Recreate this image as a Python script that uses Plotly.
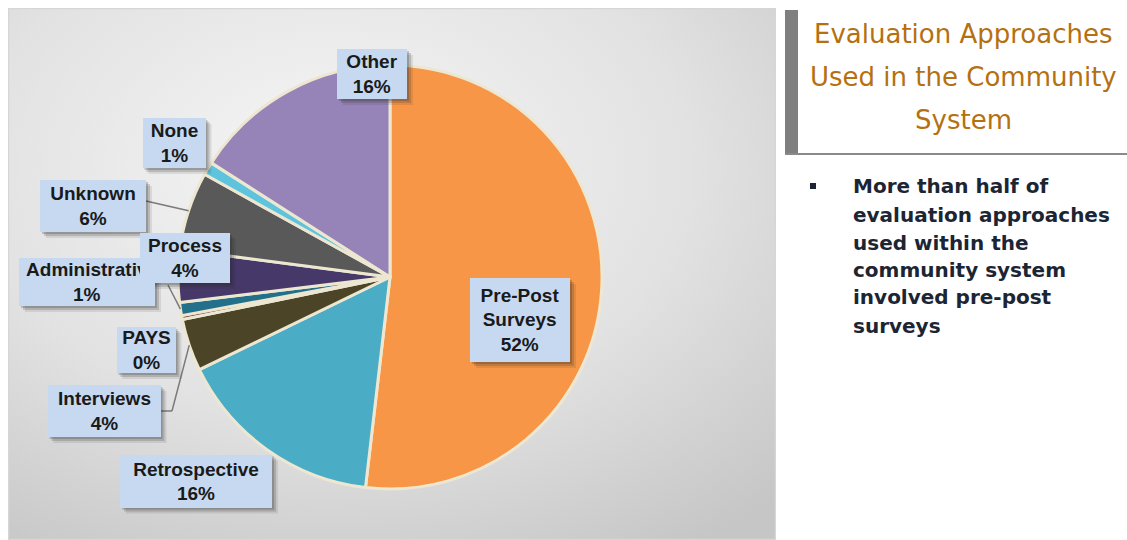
import math
import base64
import plotly.graph_objects as go

# ---------------- data ----------------
categories = ["Pre-Post Surveys", "Retrospective", "Interviews", "PAYS",
              "Administrativ", "Process", "Unknown", "None", "Other"]
values = [52, 16, 4, 0.3, 1, 4, 6, 1, 16]
colors = ["#F79646", "#4BACC6", "#4B4427", "#7F3F3D",
          "#23708A", "#47386A", "#595959", "#5EC4DE", "#9683B7"]

title_lines = ["Evaluation Approaches", "Used in the Community", "System"]
bullet_lines = ["More than half of", "evaluation approaches", "used within the",
                "community system", "involved pre-post", "surveys"]

# ---------------- layout helpers ----------------
W, H = 1127, 540
CX, CY, R = 390, 277, 212


def px(x):
    return x / W


def py(y):
    return 1 - y / H


# label boxes: center (px) and size (px)
LABEL_BOX = {
    "Pre-Post Surveys": ((520, 320), (100, 84)),
    "Retrospective": ((196, 481), (152, 53)),
    "Interviews": ((104, 411), (113, 52)),
    "PAYS": ((146, 350), (59, 46)),
    "Administrativ": ((87, 282), (136, 48)),
    "Process": ((185, 258), (90, 50)),
    "Unknown": ((93, 206), (106, 52)),
    "None": ((174, 143), (63, 50)),
    "Other": ((372, 74), (70, 50)),
}
DRAW_ORDER = ["Pre-Post Surveys", "Other", "None", "Unknown", "Administrativ",
              "Process", "PAYS", "Interviews", "Retrospective"]
# leader line anchor points on label side (px)
LEADERS = {
    "Unknown": [(146, 201)],
    "Administrativ": [(168, 285)],
    "Interviews": [(160, 411), (172, 411)],
}

fig = go.Figure()

fig.add_trace(go.Pie(
    labels=categories, values=values, sort=False, direction="clockwise", rotation=0,
    marker=dict(colors=colors, line=dict(color="#EDE7D2", width=3)),
    textinfo="none", hoverinfo="label+percent", showlegend=False,
    domain=dict(x=[px(CX - R), px(CX + R)], y=[py(CY + R), py(CY - R)]),
))

# ---------------- background panel (gradient) ----------------
pw, ph = 768, 532
svg = (f'<svg xmlns="http://www.w3.org/2000/svg" width="{pw}" height="{ph}" viewBox="0 0 {pw} {ph}">'
       '<defs><radialGradient id="g" cx="0.42" cy="0.3" r="0.85" fx="0.42" fy="0.3">'
       '<stop offset="0" stop-color="#f6f6f6"/><stop offset="0.55" stop-color="#e2e2e2"/>'
       '<stop offset="1" stop-color="#c6c6c6"/></radialGradient></defs>'
       f'<rect x="0.5" y="0.5" width="{pw-1}" height="{ph-1}" fill="url(#g)" stroke="#d6d6d6" stroke-width="1.5"/></svg>')
src = "data:image/svg+xml;base64," + base64.b64encode(svg.encode()).decode()
fig.add_layout_image(dict(source=src, xref="paper", yref="paper", x=px(8), y=py(8),
                          sizex=pw / W, sizey=ph / H, xanchor="left", yanchor="top",
                          sizing="stretch", layer="below"))

# ---------------- leader lines ----------------
total = sum(values)
cum = 0
mid_pts = {}
for name, v in zip(categories, values):
    theta = (cum + v / 2) / total * 2 * math.pi
    mid_pts[name] = (CX + R * math.sin(theta), CY - R * math.cos(theta))
    cum += v

for name, pts in LEADERS.items():
    path_pts = pts + [mid_pts[name]]
    for (x0, y0), (x1, y1) in zip(path_pts[:-1], path_pts[1:]):
        fig.add_shape(type="line", xref="paper", yref="paper",
                      x0=px(x0), y0=py(y0), x1=px(x1), y1=py(y1),
                      line=dict(color="#7a7a7a", width=1.5))

# ---------------- labels ----------------
LABEL_FONT = "Liberation Sans, Arial, sans-serif"
for name in DRAW_ORDER:
    i = categories.index(name)
    pct = round(values[i] / total * 100)
    disp = name.replace("Pre-Post Surveys", "Pre-Post<br>Surveys")
    text = "<b>" + disp + "<br>" + f"{pct}%" + "</b>"
    (lx, ly), (bw, bh) = LABEL_BOX[name]
    # soft drop shadow (shapes)
    for sh, alpha in ((6, 0.10), (4, 0.18), (2, 0.22)):
        fig.add_shape(type="rect", xref="paper", yref="paper",
                      x0=px(lx - bw / 2 + sh), x1=px(lx + bw / 2 + sh),
                      y0=py(ly + bh / 2 + sh), y1=py(ly - bh / 2 + sh),
                      fillcolor=f"rgba(40,40,40,{alpha})", line=dict(width=0))
    fig.add_annotation(x=px(lx), y=py(ly), xref="paper", yref="paper", text=text,
                       showarrow=False, xanchor="center", yanchor="middle",
                       font=dict(family=LABEL_FONT, size=19, color="#1A1A1A"),
                       bgcolor="#C6D9F1", width=bw, height=bh,
                       borderpad=0, borderwidth=0)

# ---------------- right panel ----------------
fig.add_shape(type="rect", xref="paper", yref="paper", x0=px(785), x1=px(798),
              y0=py(155), y1=py(10), fillcolor="#7f7f7f", line=dict(width=0))
fig.add_shape(type="line", xref="paper", yref="paper", x0=px(785), x1=px(1127),
              y0=py(154), y1=py(154), line=dict(color="#8a8a8a", width=2))

title_y = [34, 77, 120]
for t, yy in zip(title_lines, title_y):
    fig.add_annotation(x=px(963), y=py(yy), xref="paper", yref="paper", text=t,
                       showarrow=False, xanchor="center", yanchor="middle",
                       font=dict(family="DejaVu Sans, sans-serif", size=26, color="#B5700F"))

fig.add_shape(type="rect", xref="paper", yref="paper", x0=px(810), x1=px(816),
              y0=py(189), y1=py(183), fillcolor="#1C2533", line=dict(width=0))
bullet_y = [186, 215, 243, 270, 297, 326]
for t, yy in zip(bullet_lines, bullet_y):
    fig.add_annotation(x=px(851), y=py(yy), xref="paper", yref="paper", text="<b>" + t + "</b>",
                       showarrow=False, xanchor="left", yanchor="middle",
                       font=dict(family="DejaVu Sans, sans-serif", size=20, color="#1C2533"))

fig.update_layout(width=W, height=H, margin=dict(l=0, r=0, t=0, b=0),
                  paper_bgcolor="white", plot_bgcolor="white")

fig.write_html("out.html", config={"displayModeBar": False})
